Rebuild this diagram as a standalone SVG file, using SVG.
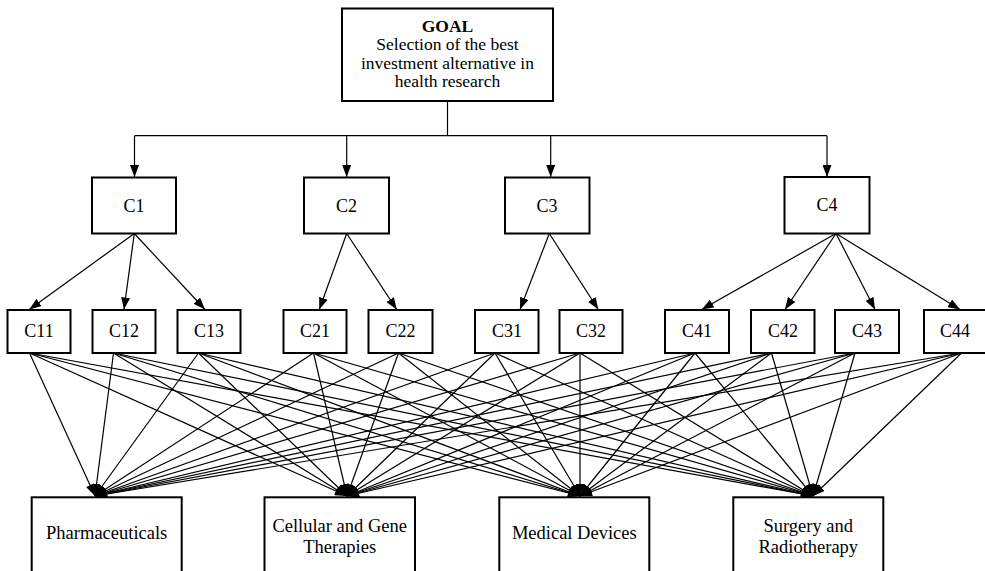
<svg xmlns="http://www.w3.org/2000/svg" width="985" height="571" viewBox="0 0 985 571">
<defs>
<marker id="ah" markerUnits="userSpaceOnUse" markerWidth="12" markerHeight="9" refX="12" refY="4.5" orient="auto">
<path d="M0,0 L12,4.5 L0,9 z" fill="#000"/>
</marker>
<style>
.box{fill:#fff;stroke:#000;stroke-width:2}
.t{font-family:"Liberation Serif","Times New Roman",serif;font-size:18.5px;fill:#000;text-anchor:middle}
.g{font-family:"Liberation Serif","Times New Roman",serif;font-size:17.5px;fill:#000;text-anchor:middle}
.c{font-family:"Liberation Serif","Times New Roman",serif;font-size:18px;fill:#000;text-anchor:middle}
.e{stroke:#000;stroke-width:1.2;fill:none}
.a{stroke:#000;stroke-width:1.2;fill:none;marker-end:url(#ah)}
</style>
</defs>
<rect width="985" height="571" fill="#fff"/>
<g id="connectors">
<polyline class="e" points="447.5,101 447.5,135.7"/>
<line class="e" x1="134.5" y1="135.7" x2="827" y2="135.7"/>
<line class="a" x1="134.5" y1="135.7" x2="134.5" y2="177"/>
<line class="a" x1="346.7" y1="135.7" x2="346.7" y2="177"/>
<line class="a" x1="550.7" y1="135.7" x2="550.7" y2="177"/>
<line class="a" x1="827" y1="135.7" x2="827" y2="177"/>
<line class="a" x1="134.3" y1="233.5" x2="29.3" y2="309.5"/>
<line class="a" x1="134.3" y1="233.5" x2="124" y2="309.5"/>
<line class="a" x1="134.3" y1="233.5" x2="205" y2="309.5"/>
<line class="a" x1="346.7" y1="233.5" x2="319.3" y2="309.5"/>
<line class="a" x1="346.7" y1="233.5" x2="396.7" y2="309.5"/>
<line class="a" x1="549.3" y1="233.5" x2="520" y2="309.5"/>
<line class="a" x1="549.3" y1="233.5" x2="598.3" y2="309.5"/>
<line class="a" x1="836" y1="233.5" x2="701.7" y2="309.5"/>
<line class="a" x1="836" y1="233.5" x2="785" y2="309.5"/>
<line class="a" x1="836" y1="233.5" x2="875" y2="309.5"/>
<line class="a" x1="836" y1="233.5" x2="960" y2="309.5"/>
<line class="a" x1="29.5" y1="353" x2="95" y2="496"/>
<line class="a" x1="29.5" y1="353" x2="347" y2="496"/>
<line class="a" x1="29.5" y1="353" x2="580" y2="496"/>
<line class="a" x1="29.5" y1="353" x2="813" y2="496"/>
<line class="a" x1="113.5" y1="353" x2="95" y2="496"/>
<line class="a" x1="113.5" y1="353" x2="347" y2="496"/>
<line class="a" x1="113.5" y1="353" x2="580" y2="496"/>
<line class="a" x1="113.5" y1="353" x2="813" y2="496"/>
<line class="a" x1="198.5" y1="353" x2="95" y2="496"/>
<line class="a" x1="198.5" y1="353" x2="347" y2="496"/>
<line class="a" x1="198.5" y1="353" x2="580" y2="496"/>
<line class="a" x1="198.5" y1="353" x2="813" y2="496"/>
<line class="a" x1="313.5" y1="353" x2="95" y2="496"/>
<line class="a" x1="313.5" y1="353" x2="347" y2="496"/>
<line class="a" x1="313.5" y1="353" x2="580" y2="496"/>
<line class="a" x1="313.5" y1="353" x2="813" y2="496"/>
<line class="a" x1="398.5" y1="353" x2="95" y2="496"/>
<line class="a" x1="398.5" y1="353" x2="347" y2="496"/>
<line class="a" x1="398.5" y1="353" x2="580" y2="496"/>
<line class="a" x1="398.5" y1="353" x2="813" y2="496"/>
<line class="a" x1="495" y1="353" x2="95" y2="496"/>
<line class="a" x1="495" y1="353" x2="347" y2="496"/>
<line class="a" x1="495" y1="353" x2="580" y2="496"/>
<line class="a" x1="495" y1="353" x2="813" y2="496"/>
<line class="a" x1="580" y1="353" x2="95" y2="496"/>
<line class="a" x1="580" y1="353" x2="347" y2="496"/>
<line class="a" x1="580" y1="353" x2="580" y2="496"/>
<line class="a" x1="580" y1="353" x2="813" y2="496"/>
<line class="a" x1="695" y1="353" x2="95" y2="496"/>
<line class="a" x1="695" y1="353" x2="347" y2="496"/>
<line class="a" x1="695" y1="353" x2="580" y2="496"/>
<line class="a" x1="695" y1="353" x2="813" y2="496"/>
<line class="a" x1="771.5" y1="353" x2="95" y2="496"/>
<line class="a" x1="771.5" y1="353" x2="347" y2="496"/>
<line class="a" x1="771.5" y1="353" x2="580" y2="496"/>
<line class="a" x1="771.5" y1="353" x2="813" y2="496"/>
<line class="a" x1="855" y1="353" x2="95" y2="496"/>
<line class="a" x1="855" y1="353" x2="347" y2="496"/>
<line class="a" x1="855" y1="353" x2="580" y2="496"/>
<line class="a" x1="855" y1="353" x2="813" y2="496"/>
<line class="a" x1="961.5" y1="353" x2="95" y2="496"/>
<line class="a" x1="961.5" y1="353" x2="347" y2="496"/>
<line class="a" x1="961.5" y1="353" x2="580" y2="496"/>
<line class="a" x1="961.5" y1="353" x2="813" y2="496"/>
</g>
<g id="goal">
<rect class="box" x="342" y="8.5" width="211" height="92.5"/>
<text class="g" x="447.5" y="31.5" font-weight="bold">GOAL</text>
<text class="g" x="447.5" y="50">Selection of the best</text>
<text class="g" x="447.5" y="68.5">investment alternative in</text>
<text class="g" x="447.5" y="87">health research</text>
</g>
<g id="C1"><rect class="box" x="92" y="177.5" width="84" height="56"/><text class="c" x="134" y="211.5">C1</text></g>
<g id="C2"><rect class="box" x="304" y="177.5" width="85" height="56"/><text class="c" x="346.5" y="211.5">C2</text></g>
<g id="C3"><rect class="box" x="505" y="177.5" width="84.5" height="56"/><text class="c" x="547" y="211.5">C3</text></g>
<g id="C4"><rect class="box" x="784.5" y="177" width="85" height="56.5"/><text class="c" x="827" y="211">C4</text></g>
<g id="C11"><rect class="box" x="7.5" y="310" width="63" height="43"/><text class="c" x="39" y="337">C11</text></g>
<g id="C12"><rect class="box" x="92.5" y="310" width="63" height="43"/><text class="c" x="124" y="337">C12</text></g>
<g id="C13"><rect class="box" x="177.5" y="310" width="63" height="43"/><text class="c" x="209" y="337">C13</text></g>
<g id="C21"><rect class="box" x="283.5" y="310" width="63" height="43"/><text class="c" x="315" y="337">C21</text></g>
<g id="C22"><rect class="box" x="368.5" y="310" width="64" height="43"/><text class="c" x="400.5" y="337">C22</text></g>
<g id="C31"><rect class="box" x="475" y="310" width="63.5" height="43"/><text class="c" x="507" y="337">C31</text></g>
<g id="C32"><rect class="box" x="559.5" y="310" width="63" height="43"/><text class="c" x="591" y="337">C32</text></g>
<g id="C41"><rect class="box" x="665" y="310" width="64" height="43"/><text class="c" x="697" y="337">C41</text></g>
<g id="C42"><rect class="box" x="751" y="310" width="63.5" height="43"/><text class="c" x="783" y="337">C42</text></g>
<g id="C43"><rect class="box" x="835" y="310" width="64" height="43"/><text class="c" x="867" y="337">C43</text></g>
<g id="C44"><rect class="box" x="924" y="310" width="62" height="43"/><text class="c" x="955" y="337">C44</text></g>
<g id="Pharmaceuticals"><rect class="box" x="31.7" y="497.3" width="150" height="82"/><text class="t" x="106.7" y="539">Pharmaceuticals</text></g>
<g id="CellularGene"><rect class="box" x="264.5" y="497.3" width="150.5" height="82"/><text class="t" x="339.7" y="531.7">Cellular and Gene</text><text class="t" x="339.7" y="552.7">Therapies</text></g>
<g id="MedicalDevices"><rect class="box" x="499.3" y="497.3" width="150" height="82"/><text class="t" x="574.3" y="539">Medical Devices</text></g>
<g id="SurgeryRadiotherapy"><rect class="box" x="733.3" y="497.3" width="150" height="82"/><text class="t" x="808.3" y="531.7">Surgery and</text><text class="t" x="808.3" y="552.7">Radiotherapy</text></g>
</svg>
